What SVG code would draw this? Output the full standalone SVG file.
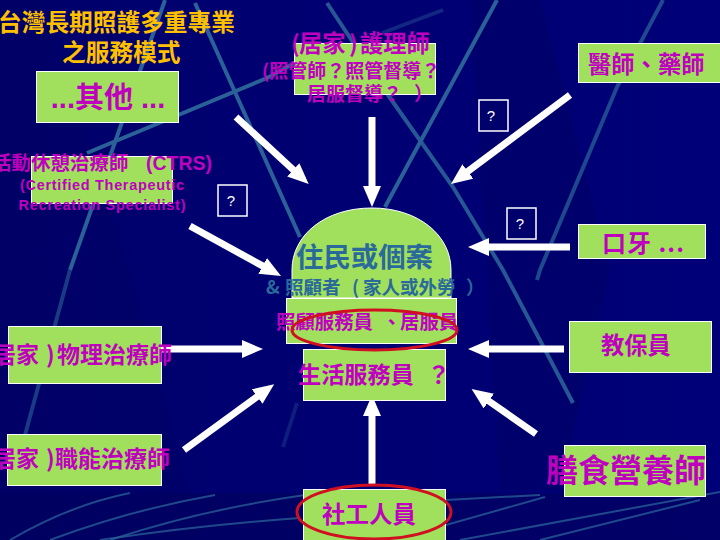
<svg xmlns="http://www.w3.org/2000/svg" width="720" height="540" viewBox="0 0 720 540">
<defs>
<linearGradient id="bg" x1="0" y1="0" x2="1" y2="0"><stop offset="0" stop-color="#00006a"/><stop offset="0.3" stop-color="#000070"/><stop offset="1" stop-color="#000078"/></linearGradient>
<linearGradient id="rule" x1="0" y1="0" x2="1" y2="0"><stop offset="0" stop-color="#00006a"/><stop offset="0.3" stop-color="#8aa868"/><stop offset="0.85" stop-color="#8aa868"/><stop offset="1" stop-color="#1a3a70"/></linearGradient>
<marker id="ah" markerUnits="userSpaceOnUse" markerWidth="22" markerHeight="20" refX="1" refY="9" orient="auto"><path d="M0,0L21,9L0,18z" fill="#fff"/></marker>
</defs>
<style>
.box{fill:#a0e05c;stroke:#fff;stroke-width:1}
.q{fill:none;stroke:#fff;stroke-width:1.500}
.qt{fill:#fff;font:15px "Liberation Sans",sans-serif;text-anchor:middle}
.t{font-family:"Noto Sans CJK TC",sans-serif;font-weight:700;fill:#bf00bf}
.m{text-anchor:middle}
.l{font-family:"Liberation Sans","Noto Sans CJK TC",sans-serif;font-weight:700;fill:#bf00bf;text-anchor:middle}
.b{font-family:"Noto Sans CJK TC",sans-serif;font-weight:700;fill:#2a6a9a}
.y{font-family:"Noto Sans CJK TC",sans-serif;font-weight:700;fill:#ffc000}
.d{fill:none;stroke:#2a6298;stroke-width:4}
.f{fill:none;stroke:#2a6298;stroke-width:2;opacity:.75}
.a{stroke:#fff;stroke-width:7;fill:none;marker-end:url(#ah)}
.r{fill:none;stroke:#d01020;stroke-width:3}
</style>
<g id="background">
<rect width="720" height="540" fill="url(#bg)"/>
<path d="M0,0H40L130,270L190,493H0z" fill="#000060" opacity=".35"/>
<path d="M470,0H540L610,270L560,490H500z" fill="#000058" opacity=".3"/>
<path class="d" d="M165,0L70,270"/>
<path class="d" d="M70,270L25,435" opacity=".6"/>
<path class="d" d="M195,3L300,237"/>
<path class="d" d="M87,153L267,78L300,60"/>
<path class="d" d="M382,33L443,10" opacity=".4"/>
<path class="d" d="M327,3L388,95L453,187L503,270L573,403" opacity=".9"/>
<path class="d" d="M497,0L385,207"/>
<path class="d" d="M663,0L617,87L540,270L537,280" opacity=".75"/>
<path class="d" d="M297,403L283,447" opacity=".3"/>
<path d="M0,493H720V540H0z" fill="#000058" opacity=".5"/>
<path d="M0,493H720" stroke="url(#rule)" stroke-width="3.500" fill="none"/>
<path class="f" d="M10,540Q70,505 130,493"/>
<path class="f" d="M50,540Q130,510 215,495"/>
<path class="f" d="M110,540Q200,510 305,495"/>
<path class="f" d="M100,540Q200,525 300,518"/>
<path class="f" d="M446,500L540,495"/>
<path class="f" d="M446,525L545,497"/>
<path class="f" d="M460,540L720,492"/>
<path class="f" d="M540,540L700,500"/>
</g>
<g id="connectors">
<path class="a" d="M236,117L294,170.500"/>
<path class="a" d="M190,226L263.500,266.400"/>
<path class="a" d="M372,117V187"/>
<path class="a" d="M570,95L467,172"/>
<path class="a" d="M570,247H488"/>
<path class="a" d="M162,349H243"/>
<path class="a" d="M184,450L258,396"/>
<path class="a" d="M564,349H488"/>
<path class="a" d="M536,434L488,400.500"/>
<path class="a" d="M372,485V415"/>
</g>
<g id="title"><text class="y" x="-2" y="31" font-size="23.700">台灣長期照護多重專業</text><text class="y" x="62" y="61" font-size="23.700">之服務模式</text></g>
<g id="other"><rect class="box" x="36.500" y="71.500" width="142" height="51"/><text class="l" x="108" y="108" font-size="29">...其他 ...</text></g>
<g id="ctrs"><rect class="box" x="31.500" y="156.500" width="141" height="47"/><text class="t" y="170" font-size="19.500"><tspan x="-8">活動休憩治療師</tspan></text><text class="l" x="179" y="170" font-size="19.500">(CTRS)</text><text class="l" x="102" y="190" font-size="14.500" textLength="164" lengthAdjust="spacing">(Certified Therapeutic</text><text class="l" x="102" y="210" font-size="14.500" textLength="167" lengthAdjust="spacing">Recreation Specialist)</text></g>
<g id="q1"><rect class="q" x="218" y="185" width="29" height="31"/><text class="qt" x="231" y="206">?</text></g>
<g id="nurse"><rect class="box" x="294.500" y="43.500" width="141" height="51"/><text class="t" y="52" font-size="23.300"><tspan x="291">(</tspan><tspan x="299">居家</tspan><tspan x="349">)</tspan><tspan x="360">護理師</tspan></text><text class="t" x="262" y="78" font-size="19">(照管師？照管督導？</text><text class="t" y="101" font-size="19"><tspan x="307">居服督導？</tspan><tspan x="414">）</tspan></text></g>
<g id="doctor"><rect class="box" x="578.500" y="43.500" width="145" height="39"/><text class="t" x="588" y="73" font-size="23.300">醫師、藥師</text></g>
<g id="q2"><rect class="q" x="479" y="100" width="29" height="31"/><text class="qt" x="491" y="121">?</text></g>
<g id="q3"><rect class="q" x="507" y="208" width="29" height="31"/><text class="qt" x="520" y="229">?</text></g>
<g id="dental"><rect class="box" x="578.500" y="224.500" width="127" height="34"/><text class="t m" x="643" y="252" font-size="24" textLength="82" lengthAdjust="spacing">口牙 ...</text></g>
<g id="resident"><path class="box" d="M292,298V270C292,235 325,208 372,208C418,208 451,235 451,270V298z"/><text class="b" x="296" y="267" font-size="27.400">住民或個案</text><text class="b" y="294" font-size="18.500"><tspan x="266">&amp;</tspan><tspan x="285">照顧者</tspan><tspan x="352">(</tspan><tspan x="363">家人或外勞</tspan><tspan x="466">）</tspan></text></g>
<g id="caregiver"><rect class="box" x="286.500" y="298.500" width="170" height="45"/><text class="t" y="329" font-size="19.400"><tspan x="276">照顧服務員</tspan><tspan x="382">、</tspan><tspan x="400">居服員</tspan></text></g>
<g id="lifecare"><rect class="box" x="303.500" y="349.500" width="142" height="51"/><text class="t" y="383" font-size="23.200"><tspan x="298">生活服務員</tspan><tspan x="427">？</tspan></text></g>
<g id="pt"><rect class="box" x="8.500" y="326.500" width="153" height="57"/><text class="t" y="363" font-size="23"><tspan x="-7">居家</tspan><tspan x="46">)</tspan><tspan x="57">物理治療師</tspan></text></g>
<g id="ot"><rect class="box" x="7.500" y="434.500" width="154" height="51"/><text class="t" y="467" font-size="23"><tspan x="-7">居家</tspan><tspan x="46">)</tspan><tspan x="55">職能治療師</tspan></text></g>
<g id="edu"><rect class="box" x="569.500" y="321.500" width="142" height="51"/><text class="t" x="601" y="354" font-size="23.300">教保員</text></g>
<g id="diet"><rect class="box" x="564.500" y="445.500" width="141" height="51"/><text class="t" x="546" y="482" font-size="32">膳食營養師</text></g>
<g id="social"><rect class="box" x="303.500" y="489.500" width="142" height="52"/><text class="t" x="322" y="523" font-size="23.500">社工人員</text></g>
<g id="highlights"><ellipse class="r" cx="374.500" cy="330" rx="82.500" ry="20"/><ellipse class="r" cx="374" cy="512" rx="77" ry="27"/></g>
</svg>
